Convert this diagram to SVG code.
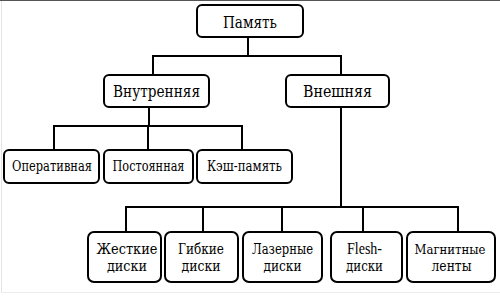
<svg xmlns="http://www.w3.org/2000/svg" width="500" height="296" viewBox="0 0 500 296">
<style>
.box{fill:#fff;stroke:#000;stroke-width:2}
text{font-family:'DejaVu Serif','Liberation Serif',serif;fill:#000;text-anchor:middle}
.lat{font-family:'Liberation Serif','DejaVu Serif',serif;font-size:16px}
.big{font-size:16.5px}
.mid{font-size:15px}
.sm{font-size:14.5px}
.c{fill:none;stroke:#000;stroke-width:2}
</style>
<rect x="0" y="0" width="500" height="296" fill="#fff"/>
<line x1="0" y1="0.5" x2="500" y2="0.5" stroke="#555" stroke-width="1"/>
<line x1="1.5" y1="1" x2="1.5" y2="293" stroke="#e4e4e4" stroke-width="1"/>
<line x1="1" y1="292.5" x2="500" y2="292.5" stroke="#ececec" stroke-width="1"/>
<g id="connectors">
<path class="c" d="M248 37V56M153 75V56H341V75"/>
<path class="c" d="M149 107V126M54 150V126H242V150M148 126V150"/>
<path class="c" d="M341 107V207M126 232V207H458V232M203 207V232M282 207V232M363 207V232"/>
</g>
<g id="pamyat"><rect class="box" x="197" y="5" width="106" height="32" rx="5"/><text class="big" x="250" y="28" textLength="54" lengthAdjust="spacingAndGlyphs">Память</text></g>
<g id="vnutr"><rect class="box" x="104" y="75" width="105" height="32" rx="5"/><text class="big" x="156.5" y="97" textLength="87" lengthAdjust="spacingAndGlyphs">Внутренняя</text></g>
<g id="vnesh"><rect class="box" x="286" y="75" width="103" height="32" rx="5"/><text class="big" x="337.5" y="97" textLength="69" lengthAdjust="spacingAndGlyphs">Внешняя</text></g>
<g id="oper"><rect class="box" x="4" y="150" width="95" height="33" rx="5"/><text class="mid" x="52" y="171" textLength="80" lengthAdjust="spacingAndGlyphs">Оперативная</text></g>
<g id="post"><rect class="box" x="104" y="150" width="89" height="33" rx="5"/><text class="mid" x="148.5" y="171" textLength="72" lengthAdjust="spacingAndGlyphs">Постоянная</text></g>
<g id="kesh"><rect class="box" x="197" y="150" width="95" height="33" rx="5"/><text class="mid" x="244.5" y="171" textLength="75" lengthAdjust="spacingAndGlyphs">Кэш-память</text></g>
<g id="zhest"><rect class="box" x="88" y="232" width="73" height="50" rx="6"/><text class="sm" x="127" y="254" textLength="61" lengthAdjust="spacingAndGlyphs">Жесткие</text><text class="sm" x="127" y="271" textLength="40" lengthAdjust="spacingAndGlyphs">диски</text></g>
<g id="gibk"><rect class="box" x="165" y="232" width="73" height="50" rx="6"/><text class="sm" x="201" y="254" textLength="46" lengthAdjust="spacingAndGlyphs">Гибкие</text><text class="sm" x="201" y="271" textLength="39" lengthAdjust="spacingAndGlyphs">диски</text></g>
<g id="laser"><rect class="box" x="243" y="232" width="79" height="50" rx="6"/><text class="sm" x="282.5" y="254" textLength="61" lengthAdjust="spacingAndGlyphs">Лазерные</text><text class="sm" x="282.5" y="271" textLength="38" lengthAdjust="spacingAndGlyphs">диски</text></g>
<g id="flesh"><rect class="box" x="331" y="232" width="71" height="50" rx="6"/><text class="lat" x="364.5" y="254" textLength="35" lengthAdjust="spacingAndGlyphs">Flesh-</text><text class="sm" x="364.5" y="271" textLength="37" lengthAdjust="spacingAndGlyphs">диски</text></g>
<g id="magn"><rect class="box" x="407" y="232" width="88" height="50" rx="6"/><text x="450" y="254" font-size="13" textLength="71" lengthAdjust="spacingAndGlyphs">Магнитные</text><text class="sm" x="451.5" y="271" textLength="40" lengthAdjust="spacingAndGlyphs">ленты</text></g>
</svg>
